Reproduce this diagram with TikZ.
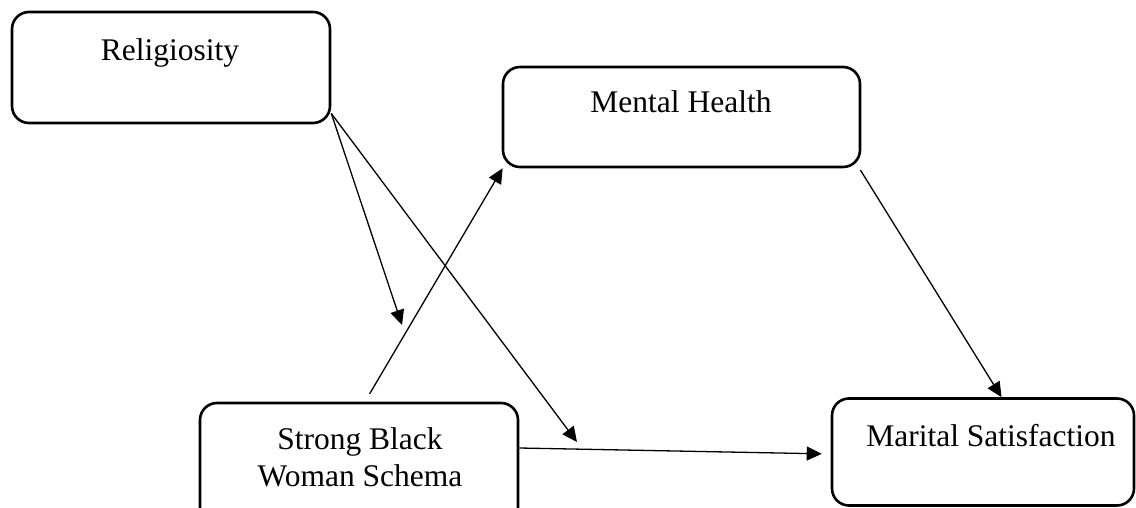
\documentclass[tikz,border=0pt]{standalone}
\usepackage{fontspec}
\setmainfont{Liberation Serif}
\usetikzlibrary{arrows.meta}
\begin{document}
\begin{tikzpicture}[x=1pt,y=-1pt,
  box/.style={draw, line width=2.6pt, rounded corners=17pt, inner sep=0pt},
  lbl/.style={font=\fontsize{31.5}{37}\selectfont, anchor=base, inner sep=0pt, align=center},
  link/.style={line width=1.3pt, -{Triangle[length=15pt,width=14pt]}}]
\useasboundingbox (0,0) rectangle (1136,508);

% boxes
\node[box, minimum width=318pt, minimum height=111pt] (rel) at (171,67.5) {};
\node[box, minimum width=357pt, minimum height=100pt] (mh) at (681.5,117) {};
\node[box, minimum width=318pt, minimum height=140pt] (sbw) at (359,473) {};
\node[box, minimum width=302pt, minimum height=107pt] (ms) at (983,452) {};

% labels (a two-line label sits on the baseline of its last line)
\node[lbl] (relt) at (170,61) {Religiosity};
\node[lbl] (mht) at (681,113) {Mental Health};
\node[lbl] (sbwt) at (360,486) {Strong Black\\Woman Schema};
\node[lbl] (mst) at (991,446) {Marital Satisfaction};

% free ends of the moderation arrows
\coordinate (m1) at (402,325);
\coordinate (m2) at (577,442);

% connectors
\draw[link] (rel.-16.6) -- (m1);
\draw[link] (rel.-16.6) -- (m2);
\draw[link, shorten <=9pt] ([xshift=6pt]sbw.north) -- (mh.196);
\draw[link, shorten <=2pt] ([xshift=-2pt]mh.south east) -- ([xshift=18.5pt]ms.north);
\draw[link, shorten >=9pt] ([yshift=25pt]sbw.east) -- ([yshift=-2pt]ms.west);
\end{tikzpicture}
\end{document}
